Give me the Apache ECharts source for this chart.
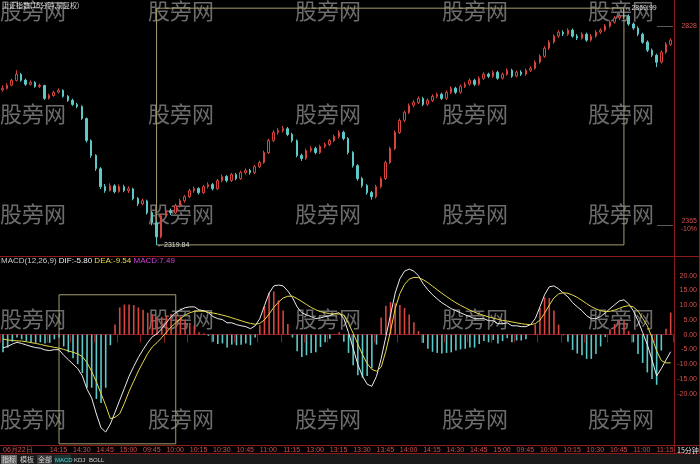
<!DOCTYPE html>
<html><head><meta charset="utf-8">
<script src="https://cdn.jsdelivr.net/npm/echarts@6/dist/echarts.min.js"></script>
<style>html,body{margin:0;padding:0;background:#000}#c{width:700px;height:464px}</style>
</head><body><div id="c"></div>
<script>
// ---- data ----
const chartTitle = '上证指数(15分钟,前复权)';
const timeLabels = ['06月22日','14:00','14:15','14:30','14:45','15:00','09:45','10:00','10:15','10:30','10:45','11:00','11:15','13:00','13:15','13:30','13:45','14:00','14:15','14:30','14:45','15:00','09:45','10:00','10:15','10:30','10:45','11:00','11:15'];
const labelStep = 5;
const hiddenLabelIndex = 5;
const priceTicks = [2828, 2365];
const macdTicks = [20, 15, 10, 5, 0, -5, -10, -15, -20];
// [open, close, low, high]
const candles = [
[2680.0,2683.7,2676.2,2690.5],[2683.5,2690.7,2681.0,2695.3],[2690.9,2702.4,2688.6,2706.0],[2702.0,2716.4,2699.8,2725.7],[2716.0,2702.4,2699.0,2719.8],
[2702.8,2693.1,2689.5,2706.2],[2693.0,2697.7,2690.1,2701.9],[2697.5,2688.4,2685.0,2700.3],[2688.0,2690.7,2684.2,2694.8],[2690.2,2660.4,2656.9,2692.0],
[2660.8,2667.4,2657.5,2671.0],[2667.0,2674.4,2664.3,2678.2],[2674.8,2679.1,2671.5,2683.6],[2679.0,2665.1,2662.0,2681.4],[2665.5,2655.8,2652.1,2668.0],
[2656.0,2646.4,2643.0,2659.5],[2646.0,2641.8,2637.5,2650.2],[2641.5,2613.8,2610.0,2644.0],[2613.5,2562.5,2558.0,2615.8],[2562.0,2527.5,2522.3,2565.1],
[2527.8,2497.1,2492.0,2530.4],[2497.0,2455.2,2450.0,2500.6],[2455.5,2445.8,2441.0,2461.2],[2446.0,2457.5,2443.8,2463.0],[2457.0,2443.5,2439.5,2460.8],
[2443.8,2455.2,2441.0,2460.3],[2455.0,2445.8,2442.2,2459.7],[2446.2,2450.5,2440.6,2455.9],[2450.0,2427.2,2423.5,2452.8],[2427.5,2415.5,2410.2,2431.0],
[2415.0,2422.5,2411.8,2427.6],[2422.0,2394.5,2390.2,2425.0],[2394.8,2371.2,2365.5,2398.0],[2371.0,2338.5,2319.84,2375.2],[2338.8,2387.5,2335.0,2392.0],
[2387.0,2399.2,2382.5,2405.0],[2399.5,2394.5,2389.0,2404.3],[2394.2,2410.8,2391.0,2415.5],[2410.5,2422.5,2406.8,2426.9],[2422.2,2431.8,2418.0,2436.0],
[2432.0,2445.8,2428.5,2450.2],[2445.5,2450.5,2441.3,2455.6],[2450.8,2441.2,2437.0,2454.0],[2441.0,2455.2,2438.2,2459.0],[2455.5,2459.8,2451.0,2465.2],
[2460.0,2450.5,2446.3,2463.8],[2450.2,2469.2,2447.5,2473.0],[2469.0,2478.5,2465.2,2483.4],[2478.8,2469.2,2465.0,2482.0],[2469.5,2483.1,2466.0,2487.5],
[2483.0,2473.8,2470.2,2487.0],[2474.0,2487.8,2471.0,2492.3],[2487.5,2492.5,2483.8,2497.6],[2492.8,2487.8,2483.0,2496.5],[2488.0,2501.8,2484.6,2506.0],
[2501.5,2511.1,2498.0,2515.8],[2511.5,2534.5,2508.2,2538.9],[2534.0,2562.5,2531.0,2566.8],[2562.8,2581.1,2558.5,2586.0],[2581.5,2585.8,2576.0,2591.2],
[2585.5,2590.4,2580.8,2596.5],[2590.0,2576.4,2572.5,2594.0],[2576.8,2562.5,2558.0,2580.5],[2562.0,2527.5,2523.4,2565.0],[2527.8,2520.5,2515.0,2532.0],
[2520.8,2539.1,2517.2,2543.5],[2539.5,2543.8,2534.6,2549.0],[2544.0,2534.5,2530.3,2548.2],[2534.2,2548.5,2531.0,2552.7],[2548.8,2553.1,2544.5,2558.0],
[2553.0,2562.5,2549.0,2566.4],[2562.2,2571.8,2558.5,2576.0],[2571.5,2581.1,2567.0,2586.3],[2581.4,2567.1,2563.0,2585.0],[2567.0,2534.5,2530.0,2570.2],
[2534.8,2504.1,2499.5,2537.6],[2504.0,2473.8,2469.0,2507.5],[2474.2,2457.5,2452.8,2478.0],[2457.8,2441.2,2436.5,2461.0],[2441.5,2431.8,2425.0,2445.2],
[2431.5,2455.2,2428.0,2459.6],[2455.0,2473.8,2451.5,2478.2],[2474.0,2511.1,2470.5,2515.6],[2511.5,2543.8,2507.8,2548.0],[2543.5,2581.1,2540.0,2585.5],
[2581.0,2609.1,2577.5,2613.8],[2609.5,2627.8,2605.0,2632.0],[2627.5,2644.1,2623.8,2648.5],[2644.5,2651.1,2639.8,2656.2],[2651.0,2660.4,2647.0,2665.0],
[2660.2,2646.4,2642.5,2664.0],[2646.8,2655.8,2643.0,2660.5],[2655.5,2665.1,2651.8,2669.6],[2665.0,2669.7,2660.5,2674.2],[2670.0,2660.4,2656.5,2673.5],
[2660.8,2674.4,2657.0,2678.8],[2674.2,2683.7,2670.5,2688.0],[2684.0,2674.4,2670.2,2687.5],[2674.6,2688.4,2671.0,2692.5],[2688.0,2693.1,2684.2,2698.0],
[2693.5,2702.4,2689.8,2706.6],[2702.2,2693.1,2689.0,2706.0],[2693.4,2707.1,2690.0,2711.5],[2707.0,2716.4,2703.2,2720.8],[2716.5,2711.7,2707.5,2720.0],
[2711.5,2721.1,2708.0,2725.4],[2721.0,2707.1,2703.5,2724.6],[2707.4,2716.4,2704.0,2720.5],[2716.2,2725.7,2712.8,2730.0],[2725.5,2711.7,2708.0,2729.2],
[2712.0,2721.1,2709.0,2725.0],[2721.4,2716.4,2712.5,2725.8],[2716.5,2725.7,2713.0,2729.8],[2725.5,2730.4,2721.8,2735.0],[2730.2,2744.4,2727.0,2748.5],
[2744.6,2758.4,2741.0,2762.8],[2758.0,2777.0,2754.5,2781.6],[2777.4,2791.0,2773.0,2795.5],[2791.2,2805.0,2787.6,2809.4],[2805.5,2814.4,2801.0,2819.0],
[2814.0,2809.7,2805.2,2818.5],[2809.5,2819.0,2806.0,2823.4],[2819.2,2805.0,2801.2,2822.6],[2805.4,2800.4,2796.0,2809.8],[2800.2,2809.7,2797.0,2814.0],
[2809.5,2795.7,2791.8,2813.2],[2796.0,2805.0,2792.5,2809.6],[2805.2,2814.4,2801.6,2818.8],[2814.6,2819.0,2810.0,2823.5],[2819.2,2828.4,2815.5,2832.8],
[2828.0,2837.7,2824.6,2842.0],[2837.5,2847.0,2833.8,2851.5],[2847.3,2851.7,2842.0,2858.0],[2852.0,2851.7,2845.5,2869.99],[2851.4,2833.0,2829.0,2855.6],
[2833.2,2823.7,2819.5,2837.0],[2823.5,2809.7,2805.0,2827.8],[2809.4,2791.0,2787.0,2813.0],[2791.2,2772.4,2768.0,2795.0],[2772.0,2760.7,2756.5,2776.2],
[2760.5,2744.4,2733.0,2764.0],[2744.8,2767.7,2741.0,2771.5],[2767.5,2786.4,2764.0,2790.6],[2786.0,2795.7,2782.2,2800.0]
];
const dif = [
-4.5,-4.0,-3.2,-2.6,-3.0,-3.5,-4.0,-4.4,-4.6,-5.2,
-5.4,-5.1,-5.1,-7.0,-8.5,-10.0,-11.5,-14.0,-18.5,-21.5,
-26.9,-31.6,-33.0,-30.3,-26.3,-22.2,-18.2,-14.1,-10.8,-7.7,
-5.1,-2.7,-0.7,0.3,2.0,4.0,6.1,7.4,8.4,9.1,
9.4,9.4,8.4,8.1,7.4,6.1,5.4,5.1,4.0,4.0,
3.4,3.0,2.7,2.0,3.0,5.4,9.8,14.1,16.5,16.8,
16.5,14.8,12.5,9.4,7.4,6.7,6.1,5.4,5.7,6.1,
6.4,7.1,7.4,5.4,0.7,-4.7,-10.1,-14.1,-16.8,-17.5,
-14.1,-8.1,-0.7,6.7,14.1,18.9,21.5,22.2,21.5,19.9,
17.2,15.2,13.5,12.1,10.8,9.8,8.8,8.1,7.4,6.7,
6.1,5.4,5.4,5.4,4.7,4.7,3.7,3.7,4.0,3.0,
3.0,2.7,2.7,3.4,5.4,9.4,13.5,16.2,16.5,15.5,
14.1,12.8,10.8,9.4,8.1,6.4,5.4,5.4,6.1,7.4,
8.8,10.1,11.4,11.8,10.4,8.1,4.7,0.7,-3.4,-8.5,
-14.0,-11.5,-8.6,-5.80];
const dea = [
-1.5,-1.8,-2.0,-2.1,-2.2,-2.4,-2.7,-3.0,-3.3,-3.7,
-4.0,-4.3,-4.6,-5.0,-5.5,-6.0,-6.5,-7.5,-9.5,-12.5,
-16.0,-20.0,-24.0,-28.5,-28.0,-26.8,-23.3,-19.2,-15.8,-12.3,
-9.3,-6.4,-4.1,-2.7,-1.0,0.8,2.6,4.0,5.4,6.6,
7.4,7.9,8.0,7.9,7.6,7.3,7.0,6.6,6.2,5.7,
5.2,4.7,4.2,3.8,3.5,3.8,5.0,7.0,9.2,11.0,
12.4,13.0,13.0,12.2,11.2,10.2,9.2,8.4,7.8,7.4,
7.1,7.0,7.0,6.6,3.8,0.5,-3.2,-6.8,-9.8,-11.8,
-12.4,-11.0,-5.6,1.2,8.8,13.9,17.0,18.8,19.4,19.3,
18.6,17.6,16.4,15.2,14.0,12.9,11.8,10.8,9.9,9.1,
8.3,7.6,7.0,6.5,6.0,5.6,5.2,4.8,4.6,4.3,
4.0,3.7,3.5,3.4,3.7,4.9,7.2,10.0,12.4,13.8,
14.2,14.0,13.4,12.6,11.6,10.5,9.5,8.7,8.1,7.8,
7.9,8.3,8.9,9.5,9.8,9.4,8.0,5.5,3.0,-1.0,
-5.5,-8.8,-9.6,-9.54];
const macd = [
-6.0,-4.4,-2.4,-1.0,-1.6,-2.2,-2.6,-2.8,-2.6,-3.0,
-2.8,-1.6,-1.0,-4.0,-6.0,-8.0,-10.0,-13.0,-18.0,-18.0,
-21.8,-23.2,-18.0,-3.6,3.4,9.2,10.2,10.2,10.0,9.2,
8.4,7.4,6.8,6.0,6.0,6.4,7.0,6.8,6.0,5.0,
4.0,3.0,0.8,0.4,-0.4,-2.4,-3.2,-3.0,-4.4,-3.4,
-3.6,-3.4,-3.0,-3.6,-1.0,3.2,9.6,14.2,14.6,11.6,
8.2,3.6,-1.0,-5.6,-7.6,-7.0,-6.2,-6.0,-4.2,-2.6,
-1.4,0.2,0.8,-2.4,-6.2,-10.4,-13.8,-14.6,-14.0,-11.4,
-3.4,5.8,9.8,11.0,10.6,10.0,9.0,6.8,4.2,1.2,
-2.8,-4.8,-5.8,-6.2,-6.4,-6.2,-6.0,-5.4,-5.0,-4.8,
-4.4,-4.4,-3.2,-2.2,-2.6,-1.8,-3.0,-2.2,-1.2,-2.6,
-2.0,-2.0,-1.6,0.0,3.4,9.0,12.6,12.4,8.2,3.4,
-0.2,-2.4,-5.2,-6.4,-7.0,-8.2,-8.2,-6.6,-4.0,-0.8,
1.8,3.6,5.0,4.6,1.2,-2.6,-6.6,-9.6,-12.8,-15.0,
-17.0,-5.4,2.0,7.49];
const categories = candles.map((_, i) => String(i));
const toolbarItems = ['指标','模板','全部','MACD','KDJ','BOLL'];

// ---- derived ----
const lowIdx = candles.reduce((b, c, i) => c[2] < candles[b][2] ? i : b, 0);
const highIdx = candles.reduce((b, c, i) => c[3] > candles[b][3] ? i : b, 0);
const last = candles.length - 1;

const RED = '#d8443e', CYAN = '#5cc8c8', FRAME = '#8c1c1c', BOX = '#a49d70';
const NUMF = 'Liberation Sans, Arial, sans-serif';
const CJK = 'Noto Sans CJK SC, sans-serif';

const chart = echarts.init(document.getElementById('c'), null, {renderer: 'canvas'});

const wmX = [0, 148, 295, 442, 588], wmY = [0, 103, 203, 308, 408];
const watermarks = [];
wmY.forEach(y => wmX.forEach(x => watermarks.push({
  type: 'text', x: x, y: y, z: 1, silent: true,
  style: {text: '股旁网', fill: 'rgba(150,150,150,0.72)', font: '22px ' + CJK}
})));

const tbX = [1, 19, 37, 54, 73, 88], tbW = [16, 16, 15, 17, 12, 15];
const toolbar = [{type: 'rect', shape: {x: 0, y: 454, width: 700, height: 10}, style: {fill: '#1a1a1a'}, z: 20}];
toolbarItems.forEach((t, i) => {
  if (i === 0 || i === 2) toolbar.push({type: 'rect', shape: {x: tbX[i], y: 455, width: tbW[i], height: 9}, style: {fill: i === 0 ? '#6a6a6a' : '#3a3a3a'}, z: 21});
  if (i === 3) toolbar.push({type: 'rect', shape: {x: tbX[i], y: 455, width: tbW[i], height: 9}, style: {fill: '#1d3434'}, z: 21});
  const latin = /[A-Z]/.test(t);
  toolbar.push({type: 'text', x: tbX[i] + 1, y: latin ? 457 : 456, z: 22,
    style: {text: t, fill: i === 3 ? '#4fd8d8' : '#cfcfcf', font: latin ? ('6px ' + NUMF) : ('7px ' + CJK)}});
});

const frame = [
  {type: 'line', shape: {x1: 0, y1: 256.5, x2: 700, y2: 256.5}, style: {stroke: FRAME, lineWidth: 1}, z: 15},
  {type: 'line', shape: {x1: 674.5, y1: 0, x2: 674.5, y2: 454}, style: {stroke: FRAME, lineWidth: 1}, z: 15},
  {type: 'line', shape: {x1: 699.5, y1: 0, x2: 699.5, y2: 454}, style: {stroke: FRAME, lineWidth: 1}, z: 15},
  {type: 'line', shape: {x1: 0, y1: 445.5, x2: 700, y2: 445.5}, style: {stroke: FRAME, lineWidth: 1}, z: 15},
  {type: 'line', shape: {x1: 0, y1: 453.5, x2: 700, y2: 453.5}, style: {stroke: FRAME, lineWidth: 1}, z: 15},
  {type: 'text', x: 677, y: 447, z: 16, style: {text: '15分钟', fill: '#e8e8e8', font: '7px ' + CJK}},
  {type: 'text', x: 2, y: 2, z: 16, style: {text: chartTitle, fill: '#d8d8d8', font: '7px ' + CJK}}
];

chart.setOption({
  backgroundColor: '#000',
  animation: false,
  title: {
    left: 1, top: 257, padding: 0,
    text: '{a|MACD(12,26,9)} {b|DIF:' + dif[last].toFixed(2) + '} {c|DEA:' + dea[last].toFixed(2) + '} {d|MACD:' + macd[last].toFixed(2) + '}',
    textStyle: {fontSize: 8, fontFamily: NUMF, fontWeight: 'normal',
      rich: {a: {color: '#c8c8c8', fontSize: 8}, b: {color: '#f0f0f0', fontSize: 8}, c: {color: '#e8dc48', fontSize: 8}, d: {color: '#d040d8', fontSize: 8}}}
  },
  grid: [
    {left: 0, right: 26, top: 0, height: 256},
    {left: 0, right: 26, top: 257, height: 188}
  ],
  xAxis: [
    {type: 'category', gridIndex: 0, data: categories, boundaryGap: true,
      axisLine: {show: false}, axisTick: {show: false}, axisLabel: {show: false}, splitLine: {show: false}},
    {type: 'category', gridIndex: 1, data: categories, boundaryGap: true,
      axisLine: {show: true, lineStyle: {color: FRAME}},
      axisTick: {show: true, length: 8, lineStyle: {color: FRAME},
        interval: (i) => i % labelStep === 0 && i !== hiddenLabelIndex},
      axisLabel: {show: true, color: '#d05050', fontSize: 7, fontFamily: NUMF, align: 'left', margin: 2,
        interval: (i) => i % labelStep === 0 && i !== hiddenLabelIndex,
        formatter: (v, i) => timeLabels[Math.round(i / labelStep)] || ''},
      splitLine: {show: false}}
  ],
  yAxis: [
    {type: 'value', gridIndex: 0, position: 'right', min: 2294, max: 2889, scale: true,
      axisLine: {show: false},
      axisTick: {show: true, inside: true, length: 16, customValues: priceTicks, lineStyle: {color: '#5a5a5a'}},
      axisLabel: {customValues: priceTicks, color: '#d05050', fontSize: 7, fontFamily: NUMF, align: 'right', margin: 24,
        lineHeight: 8, formatter: (v) => v === priceTicks[1] ? v + '\n-10%' : String(v)},
      splitLine: {show: false}},
    {type: 'value', gridIndex: 1, position: 'right', min: -37.4, max: 26.3,
      axisLine: {show: false}, axisTick: {show: false},
      axisLabel: {customValues: macdTicks, color: '#d05050', fontSize: 7, fontFamily: NUMF, align: 'right', margin: 24,
        formatter: (v) => v.toFixed(2)},
      splitLine: {show: false}}
  ],
  series: [
    {type: 'candlestick', xAxisIndex: 0, yAxisIndex: 0, data: candles, barWidth: 2, z: 5,
      itemStyle: {color: '#000', color0: CYAN, borderColor: RED, borderColor0: CYAN, borderWidth: 1},
      markPoint: {symbol: 'circle', symbolSize: 1, itemStyle: {color: 'rgba(0,0,0,0)'}, silent: true,
        label: {show: true, position: 'right', distance: 0, color: '#d8d8d8', fontSize: 7, fontFamily: NUMF, formatter: '←{c}'},
        data: [{type: 'min', valueDim: 'lowest'}, {type: 'max', valueDim: 'highest'}]},
      markArea: {silent: true, itemStyle: {color: 'rgba(0,0,0,0)', borderColor: BOX, borderWidth: 1},
        data: [[{coord: [lowIdx, candles[highIdx][3]]}, {coord: [highIdx, candles[lowIdx][2]]}]]}
    },
    {type: 'bar', xAxisIndex: 1, yAxisIndex: 1, data: macd, barWidth: 1.6, z: 3,
      itemStyle: {color: (p) => p.value >= 0 ? RED : CYAN},
      markArea: {silent: true, itemStyle: {color: 'rgba(0,0,0,0)', borderColor: BOX, borderWidth: 1},
        data: [[{coord: [13, 13.5]}, {coord: [36, -37]}]]}
    },
    {type: 'line', xAxisIndex: 1, yAxisIndex: 1, data: dif, symbol: 'none', z: 6,
      lineStyle: {color: '#ececec', width: 1}},
    {type: 'line', xAxisIndex: 1, yAxisIndex: 1, data: dea, symbol: 'none', z: 6,
      lineStyle: {color: '#e6d84a', width: 1}}
  ],
  graphic: watermarks.concat(frame, toolbar)
});
</script>
</body></html>
